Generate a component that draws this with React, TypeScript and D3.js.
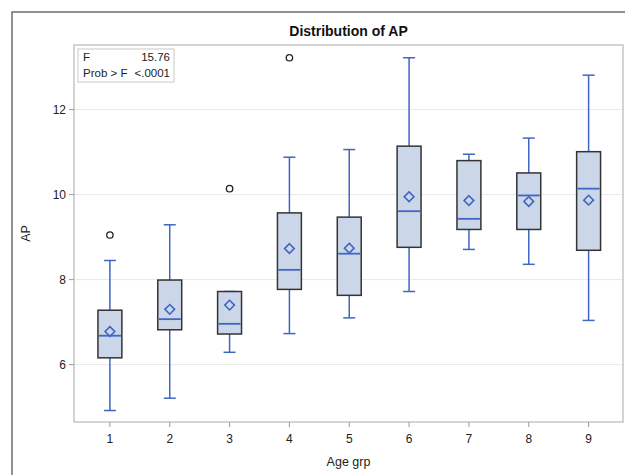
import * as d3 from "d3";

const groups = [1, 2, 3, 4, 5, 6, 7, 8, 9];
const whiskerLow = [4.92, 5.21, 6.29, 6.73, 7.1, 7.72, 8.71, 8.36, 7.04];
const q1 = [6.16, 6.82, 6.72, 7.77, 7.63, 8.76, 9.18, 9.18, 8.69];
const median = [6.68, 7.07, 6.96, 8.23, 8.61, 9.61, 9.43, 9.98, 10.14];
const q3 = [7.28, 7.99, 7.72, 9.57, 9.47, 11.14, 10.8, 10.51, 11.01];
const whiskerHigh = [8.45, 9.29, 7.72, 10.88, 11.06, 13.22, 10.95, 11.33, 12.81];
const means = [6.78, 7.3, 7.4, 8.73, 8.74, 9.95, 9.86, 9.84, 9.87];
const outlierGroups = [1, 3, 4];
const outlierValues = [9.05, 10.14, 13.22];
const yTicks = [6, 8, 10, 12];

const width = 625;
const height = 475;
const plot = { left: 74, top: 45, right: 623, bottom: 422 };

const boxFill = "#cbd7e8";
const blue = "#3f66c4";
const font = "'Liberation Sans', Arial, sans-serif";

export default function App() {
  const x = d3.scaleLinear().domain([0.4, 9.6]).range([plot.left, plot.right + 1.5]);
  const y = d3.scaleLinear().domain([4.65, 13.52]).range([plot.bottom, plot.top]);

  const step = x(2) - x(1);
  const boxW = step * 0.4;
  const capW = 12;

  return (
    <svg
      width={width}
      height={height}
      style={{ position: "absolute", left: 0, top: 0, background: "#fff" }}
      fontFamily={font}
    >
      {/* outer frame of the graph */}
      <rect x={12} y={12} width={700} height={500} fill="none" stroke="#6e6e6e" strokeWidth={1.5} />

      <text x={(plot.left + plot.right) / 2} y={36} textAnchor="middle" fontSize={14} fontWeight={700} fill="#111">
        Distribution of AP
      </text>

      {/* grid */}
      {yTicks.map((t) => (
        <line key={`g${t}`} x1={plot.left} x2={plot.right} y1={y(t)} y2={y(t)} stroke="#e8e8e8" strokeWidth={1} />
      ))}

      {/* plot frame */}
      <rect
        x={plot.left}
        y={plot.top}
        width={plot.right - plot.left}
        height={plot.bottom - plot.top}
        fill="none"
        stroke="#b8b8b8"
        strokeWidth={1.2}
      />

      {/* y axis */}
      {yTicks.map((t) => (
        <g key={`y${t}`}>
          <line x1={plot.left - 5} x2={plot.left} y1={y(t)} y2={y(t)} stroke="#9a9a9a" />
          <text x={plot.left - 8} y={y(t)} dy="0.35em" textAnchor="end" fontSize={12} fill="#222">
            {t}
          </text>
        </g>
      ))}
      <text
        transform={`translate(30, ${(plot.top + plot.bottom) / 2}) rotate(-90)`}
        textAnchor="middle"
        fontSize={12.5}
        fill="#222"
      >
        AP
      </text>

      {/* x axis */}
      {groups.map((g) => (
        <g key={`x${g}`}>
          <line x1={x(g)} x2={x(g)} y1={plot.bottom} y2={plot.bottom + 5} stroke="#9a9a9a" />
          <text x={x(g)} y={443} textAnchor="middle" fontSize={12} fill="#222">
            {g}
          </text>
        </g>
      ))}
      <text x={(plot.left + plot.right) / 2} y={466} textAnchor="middle" fontSize={12.5} fill="#222">
        Age grp
      </text>

      {/* boxes */}
      {groups.map((g, i) => {
        const cx = x(g);
        return (
          <g key={`b${g}`}>
            <line x1={cx} x2={cx} y1={y(whiskerLow[i])} y2={y(q1[i])} stroke={blue} strokeWidth={1.5} />
            <line x1={cx} x2={cx} y1={y(q3[i])} y2={y(whiskerHigh[i])} stroke={blue} strokeWidth={1.5} />
            <line x1={cx - capW / 2} x2={cx + capW / 2} y1={y(whiskerLow[i])} y2={y(whiskerLow[i])} stroke={blue} strokeWidth={1.5} />
            <line x1={cx - capW / 2} x2={cx + capW / 2} y1={y(whiskerHigh[i])} y2={y(whiskerHigh[i])} stroke={blue} strokeWidth={1.5} />
            <rect
              x={cx - boxW / 2}
              y={y(q3[i])}
              width={boxW}
              height={y(q1[i]) - y(q3[i])}
              fill={boxFill}
              stroke="#333"
              strokeWidth={1.5}
            />
            <line x1={cx - boxW / 2 + 1} x2={cx + boxW / 2 - 1} y1={y(median[i])} y2={y(median[i])} stroke={blue} strokeWidth={1.8} />
            <path
              d={d3.symbol(d3.symbolDiamond2, 60)() ?? ""}
              transform={`translate(${cx}, ${y(means[i])})`}
              fill="none"
              stroke={blue}
              strokeWidth={1.6}
            />
          </g>
        );
      })}

      {/* outliers */}
      {outlierGroups.map((g, i) => (
        <circle key={`o${i}`} cx={x(g)} cy={y(outlierValues[i])} r={3.2} fill="#fff" stroke="#222" strokeWidth={1.3} />
      ))}

      {/* stats inset */}
      <rect x={78} y={49} width={96} height={33} fill="#fff" stroke="#c8c8c8" strokeWidth={1} />
      <text x={83} y={61} fontSize={11.5} fill="#222">F</text>
      <text x={170} y={61} fontSize={11.5} fill="#222" textAnchor="end">15.76</text>
      <text x={83} y={77} fontSize={11.5} fill="#222">Prob &gt; F</text>
      <text x={170} y={77} fontSize={11.5} fill="#222" textAnchor="end">&lt;.0001</text>
    </svg>
  );
}
